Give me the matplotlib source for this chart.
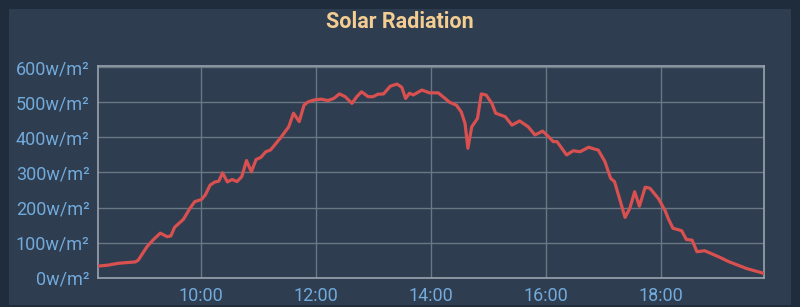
import matplotlib
matplotlib.use("Agg")
import matplotlib.pyplot as plt
from matplotlib.patches import Rectangle
from matplotlib.ticker import FixedLocator, FuncFormatter

# ---- data ----
times = ["8:13", "8:24", "8:34", "8:52", "8:55", "9:04", "9:11", "9:18", "9:25", "9:29",
         "9:33", "9:42", "9:49", "9:54", "10:01", "10:05", "10:10", "10:15", "10:19", "10:23",
         "10:28", "10:33", "10:38", "10:43", "10:48", "10:53", "10:58", "11:03", "11:08", "11:13",
         "11:23", "11:32", "11:37", "11:43", "11:48", "11:52", "11:59", "12:06", "12:13", "12:19",
         "12:25", "12:31", "12:38", "12:43", "12:48", "12:55", "13:00", "13:05", "13:11", "13:18",
         "13:25", "13:30", "13:34", "13:38", "13:42", "13:51", "13:59", "14:08", "14:13", "14:20",
         "14:27", "14:32", "14:36", "14:39", "14:43", "14:49", "14:53", "14:58", "15:04", "15:08",
         "15:18", "15:25", "15:33", "15:42", "15:49", "15:57", "16:05", "16:08", "16:12", "16:22",
         "16:29", "16:36", "16:45", "16:52", "16:55", "17:02", "17:08", "17:12", "17:23", "17:28",
         "17:33", "17:38", "17:44", "17:49", "17:58", "18:05", "18:08", "18:13", "18:22", "18:27",
         "18:33", "18:38", "18:46", "19:02", "19:11", "19:30", "19:47"]
radiation = [33, 36, 41, 45, 50, 88, 109, 127, 117, 119,
             144, 166, 198, 217, 223, 236, 264, 273, 275, 299,
             273, 280, 274, 288, 334, 302, 337, 343, 359, 364,
             397, 430, 469, 445, 492, 501, 507, 509, 505, 511,
             524, 516, 497, 516, 530, 516, 516, 523, 524, 546,
             552, 543, 511, 526, 521, 535, 527, 527, 516, 500,
             492, 473, 440, 369, 430, 454, 524, 521, 497, 469,
             459, 435, 447, 430, 407, 418, 397, 388, 388, 350,
             362, 359, 372, 366, 364, 331, 283, 274, 172, 198,
             245, 204, 258, 255, 225, 190, 169, 141, 134, 109,
             107, 74, 77, 58, 46, 26, 13]
x_ticks = ["10:00", "12:00", "14:00", "16:00", "18:00"]
y_ticks = [0, 100, 200, 300, 400, 500, 600]
title = "Solar Radiation"
x_range = ["8:13", "19:48"]


def to_hours(s):
    h, m = s.split(":")
    return int(h) + int(m) / 60.0


xs = [to_hours(t) for t in times]

# ---- styling ----
plt.rcParams['font.family'] = ['Roboto', 'DejaVu Sans']
outer_bg = "#1f2c3b"
panel_bg = "#2e3d4f"
line_color = "#d8504f"
tick_color = "#72aadc"
grid_color = "#6b7785"
frame_color = "#9aa4ae"

fig = plt.figure(figsize=(8.0, 3.07), dpi=100)
fig.patch.set_facecolor(outer_bg)
fig.add_artist(Rectangle((9 / 800, 2 / 307), (791 - 9) / 800, (307 - 9 - 2) / 307,
                         transform=fig.transFigure, facecolor=panel_bg,
                         edgecolor="none", zorder=0))

ax = fig.add_axes([98 / 800, (307 - 277.7) / 307, (764 - 98) / 800, (277.7 - 65.5) / 307])
ax.set_facecolor(panel_bg)
ax.plot(xs, radiation, color=line_color, linewidth=2.3, solid_joinstyle="round", zorder=3)

ax.set_xlim(to_hours(x_range[0]), to_hours(x_range[1]))
ax.set_ylim(0, 605)
ax.xaxis.set_major_locator(FixedLocator([to_hours(t) for t in x_ticks]))
ax.xaxis.set_major_formatter(FuncFormatter(lambda v, p: "%d:%02d" % (int(v), round((v % 1) * 60))))
ax.yaxis.set_major_locator(FixedLocator(y_ticks))
ax.yaxis.set_major_formatter(FuncFormatter(lambda v, p: "%dw/m²" % v))

ax.grid(True, color=grid_color, linewidth=1.0)
ax.set_axisbelow(True)
for s in ax.spines.values():
    s.set_color(frame_color)
    s.set_linewidth(1.2)
ax.tick_params(axis="both", length=0, colors=tick_color, labelsize=13)
ax.tick_params(axis="y", pad=6)
ax.tick_params(axis="x", pad=7)

fig.text(0.5, 1 - 22 / 307, title, ha="center", va="center", color="#f3cd92",
         fontsize=15.5, fontweight="bold")

fig.savefig("out.png", dpi=100, facecolor=fig.get_facecolor())
